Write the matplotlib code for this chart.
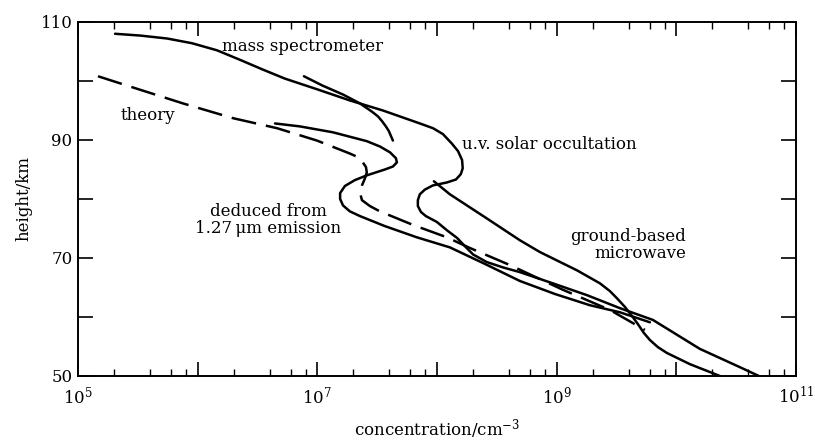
import math
import matplotlib
matplotlib.use("Agg")
import matplotlib.pyplot as plt
from matplotlib.ticker import LogLocator, FixedLocator, NullFormatter, FuncFormatter

plt.rcParams['font.family'] = ['DejaVu Serif']
plt.rcParams['mathtext.fontset'] = 'dejavuserif'

# values: concentration (cm^-3) and height (km)
uv_conc = [2.04e5, 3.30e5, 5.55e5, 8.96e5, 1.45e6, 2.25e6, 3.44e6, 5.36e6, 9.93e6,
           1.87e7, 3.53e7, 7.19e7, 9.25e7, 1.12e8, 1.33e8, 1.50e8, 1.62e8, 1.64e8,
           1.58e8, 1.44e8, 1.21e8, 9.25e7, 7.93e7, 7.19e7, 6.92e7, 6.92e7, 7.34e7,
           8.07e7, 9.98e7, 1.21e8, 1.47e8, 1.71e8, 2.00e8, 2.61e8, 3.56e8, 4.93e8,
           9.29e8, 1.79e9, 3.37e9, 6.37e9, 1.57e10, 3.39e10, 4.89e10]
uv_height = [108.0, 107.7, 107.2, 106.4, 105.2, 103.6, 102.0, 100.4, 98.6,
             96.7, 95.0, 92.8, 92.0, 91.0, 89.4, 88.1, 86.6, 85.2,
             84.2, 83.3, 82.8, 82.3, 81.6, 80.8, 79.8, 78.8, 77.8,
             77.1, 76.1, 74.7, 73.4, 72.0, 70.6, 69.3, 68.4, 67.6,
             65.7, 63.7, 61.5, 59.5, 54.6, 51.5, 50.0]

ms_conc = [7.73e6, 1.11e7, 1.64e7, 2.27e7, 2.86e7, 3.21e7, 3.47e7, 3.74e7, 3.96e7, 4.28e7]
ms_height = [100.8, 99.2, 97.7, 96.2, 94.8, 94.0, 93.2, 92.3, 91.5, 89.9]

ir_conc = [4.43e6, 7.16e6, 1.35e7, 2.59e7, 3.33e7, 4.05e7, 4.54e7, 4.62e7, 4.28e7,
           3.67e7, 2.59e7, 2.06e7, 1.70e7, 1.55e7, 1.55e7, 1.64e7, 1.87e7, 2.27e7,
           3.67e7, 6.79e7, 1.28e8, 2.51e8, 4.93e8, 9.66e8, 1.89e9, 3.37e9, 6.01e9]
ir_height = [92.8, 92.3, 91.3, 89.8, 88.9, 87.9, 86.9, 86.2, 85.5,
             85.0, 84.0, 83.2, 82.2, 81.0, 80.0, 78.9, 77.9, 77.1,
             75.4, 73.5, 71.8, 69.0, 66.1, 63.9, 62.0, 60.8, 59.1]

theory_conc = [1.47e5, 2.88e5, 7.53e5, 1.97e6, 4.60e6, 9.93e6, 1.87e7, 2.18e7, 2.40e7,
               2.55e7, 2.59e7, 2.50e7, 2.36e7, 2.27e7, 2.36e7, 2.75e7, 3.33e7, 4.05e7,
               6.30e7, 1.21e8, 1.88e8, 4.06e8, 1.13e9, 2.78e9, 5.46e9]
theory_height = [100.8, 98.9, 96.2, 93.7, 92.0, 89.9, 87.7, 87.1, 86.2,
                 85.4, 84.5, 83.5, 82.3, 81.1, 79.8, 78.8, 77.9, 77.2,
                 75.6, 73.5, 71.7, 68.8, 64.6, 61.2, 57.8]

mw_conc = [9.42e7, 1.28e8, 2.61e8, 4.93e8, 7.25e8, 1.48e9, 2.30e9, 2.78e9, 3.18e9,
           3.72e9, 4.25e9, 4.77e9, 5.35e9, 6.01e9, 7.00e9, 8.34e9, 1.30e10, 2.31e10]
mw_height = [83.0, 80.8, 76.7, 73.0, 71.0, 67.9, 65.7, 64.4, 63.2,
             61.7, 60.2, 58.8, 57.3, 56.1, 54.9, 53.9, 52.0, 50.0]

y_labels = [50, 70, 90, 110]
y_minor = [60, 80, 100]

fig = plt.figure(figsize=(8.15, 4.44), dpi=100)
ax = fig.add_axes([0.0957, 0.1532, 0.881, 0.7973])

lw = 1.8
style = dict(color='black', lw=lw, solid_capstyle='round', solid_joinstyle='round')
ax.plot(uv_conc, uv_height, **style)
ax.plot(ms_conc, ms_height, **style)
ax.plot(ir_conc, ir_height, **style)
ax.plot(mw_conc, mw_height, **style)
ax.plot(theory_conc, theory_height, color='black', lw=lw, dashes=(10, 4),
        dash_joinstyle='round')

ax.set_xscale('log')
ax.set_xlim(1e5, 1e11)
ax.set_ylim(50, 110)

ax.xaxis.set_major_locator(LogLocator(base=10, numticks=20))
ax.xaxis.set_minor_locator(LogLocator(base=10, subs=(2, 4, 6, 8), numticks=20))
ax.xaxis.set_minor_formatter(NullFormatter())


def fmt_x(v, pos):
    e = int(round(math.log10(v)))
    # only every other decade is labelled
    return r'$10^{%d}$' % e if e % 2 == 1 else ''


ax.xaxis.set_major_formatter(FuncFormatter(fmt_x))
ax.yaxis.set_major_locator(FixedLocator(y_labels))
ax.yaxis.set_minor_locator(FixedLocator(y_minor))

ax.tick_params(axis='x', which='major', direction='in', length=10, width=1.2,
               top=True, bottom=True, labelsize=12, pad=7)
ax.tick_params(axis='x', which='minor', direction='in', length=5, width=1.0,
               top=True, bottom=True)
ax.tick_params(axis='y', which='both', direction='in', length=11, width=1.2,
               left=True, right=True, labelsize=12, pad=4)

for s in ax.spines.values():
    s.set_linewidth(1.4)

ax.set_xlabel(r'concentration/cm$^{-3}$', fontsize=12, labelpad=7)
ax.set_ylabel('height/km', fontsize=12, labelpad=6)

ax.text(1.6e6, 105.8, 'mass spectrometer', fontsize=12, va='center', ha='left')
ax.text(2.25e5, 94.2, 'theory', fontsize=12, va='center', ha='left')
ax.text(1.62e8, 89.3, 'u.v. solar occultation', fontsize=12, va='center', ha='left')
ax.text(3.9e6, 76.5, 'deduced from\n1.27\u2009\u03bcm emission', fontsize=12,
        va='center', ha='center', linespacing=1.0)
ax.text(1.2e10, 72.2, 'ground-based\nmicrowave', fontsize=12,
        va='center', ha='right', linespacing=1.0)

fig.savefig('out.png', dpi=100)
